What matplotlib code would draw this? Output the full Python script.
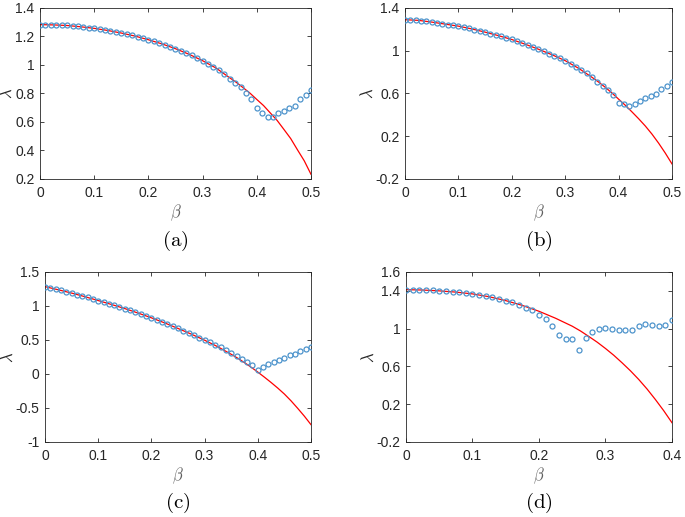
import numpy as np
import matplotlib.pyplot as plt

plt.rcParams['mathtext.fontset'] = 'cm'
plt.rcParams['font.family'] = ['Liberation Sans', 'DejaVu Sans']

# ---- data ----
beta_ad = np.round(np.arange(0, 0.501, 0.01), 2)      # scatter beta, panels a-c
beta_d = np.round(np.arange(0, 0.401, 0.01), 2)       # scatter beta, panel d

curve_beta_abc = [0, 0.025, 0.05, 0.075, 0.1, 0.125, 0.15, 0.175, 0.2, 0.225,
                  0.25, 0.275, 0.3, 0.325, 0.35, 0.3625, 0.375, 0.3875, 0.4,
                  0.4125, 0.425, 0.4375, 0.45, 0.4625, 0.475, 0.4875, 0.5]
curve_beta_d = [0, 0.025, 0.05, 0.075, 0.1, 0.125, 0.15, 0.175, 0.2, 0.225,
                0.25, 0.2625, 0.275, 0.2875, 0.3, 0.3125, 0.325, 0.3375, 0.35,
                0.3625, 0.375, 0.3875, 0.4]

# panel (a)
curve_a = [1.283, 1.281, 1.277, 1.268, 1.257, 1.242, 1.224, 1.203, 1.177, 1.148,
           1.114, 1.075, 1.030, 0.978, 0.910, 0.877, 0.840, 0.802, 0.758,
           0.715, 0.663, 0.611, 0.548, 0.484, 0.405, 0.328, 0.233]
lam_a = [1.283, 1.283, 1.282, 1.281, 1.279, 1.277, 1.274, 1.270, 1.266, 1.262,
         1.257, 1.252, 1.246, 1.239, 1.232, 1.224, 1.216, 1.207, 1.198, 1.188,
         1.177, 1.166, 1.154, 1.142, 1.128, 1.114, 1.099, 1.083, 1.067, 1.049,
         1.030, 1.010, 0.986, 0.962, 0.935, 0.905, 0.874, 0.845, 0.800, 0.760,
         0.700, 0.662, 0.638, 0.638, 0.666, 0.680, 0.697, 0.709, 0.760, 0.790, 0.826]

# panel (b)
curve_b = [1.290, 1.284, 1.268, 1.249, 1.230, 1.204, 1.174, 1.141, 1.105, 1.061,
           1.014, 0.963, 0.907, 0.836, 0.752, 0.707, 0.658, 0.605, 0.547,
           0.490, 0.428, 0.364, 0.296, 0.220, 0.135, 0.042, -0.059]
lam_b = [1.290, 1.289, 1.286, 1.281, 1.275, 1.268, 1.261, 1.253, 1.245, 1.238,
         1.230, 1.220, 1.210, 1.198, 1.186, 1.174, 1.161, 1.148, 1.134, 1.120,
         1.105, 1.088, 1.070, 1.052, 1.033, 1.014, 0.994, 0.973, 0.952, 0.930,
         0.907, 0.879, 0.850, 0.819, 0.787, 0.752, 0.712, 0.670, 0.635, 0.584,
         0.512, 0.497, 0.484, 0.497, 0.534, 0.553, 0.578, 0.597, 0.641, 0.672, 0.704]

# panel (c)
curve_c = [1.285, 1.238, 1.190, 1.137, 1.080, 1.022, 0.962, 0.896, 0.826, 0.751,
           0.670, 0.586, 0.497, 0.400, 0.290, 0.231, 0.167, 0.100, 0.028,
           -0.047, -0.125, -0.207, -0.295, -0.395, -0.505, -0.620, -0.745]
lam_c = [1.285, 1.266, 1.247, 1.228, 1.209, 1.190, 1.169, 1.148, 1.126, 1.103,
         1.080, 1.057, 1.034, 1.010, 0.986, 0.962, 0.936, 0.909, 0.882, 0.854,
         0.826, 0.796, 0.766, 0.735, 0.703, 0.670, 0.637, 0.603, 0.569, 0.534,
         0.500, 0.465, 0.430, 0.395, 0.355, 0.312, 0.270, 0.225, 0.180, 0.130,
         0.065, 0.110, 0.140, 0.175, 0.210, 0.240, 0.275, 0.300, 0.335, 0.370, 0.400]

# panel (d)
curve_d = [1.413, 1.409, 1.400, 1.387, 1.368, 1.338, 1.297, 1.246, 1.184, 1.110,
           1.026, 0.975, 0.917, 0.857, 0.790, 0.718, 0.638, 0.554, 0.462,
           0.361, 0.250, 0.132, 0.004]
lam_d = [1.413, 1.413, 1.410, 1.410, 1.406, 1.403, 1.400, 1.392, 1.389, 1.382,
         1.371, 1.360, 1.350, 1.332, 1.315, 1.297, 1.279, 1.251, 1.223, 1.198,
         1.149, 1.100, 1.026, 0.930, 0.892, 0.892, 0.769, 0.903, 0.966, 1.001,
         1.005, 0.998, 0.984, 0.991, 0.991, 1.033, 1.047, 1.043, 1.026, 1.043, 1.096]

panels = [
    # (position, beta, lam, curve beta, curve, ylim, yticks, xticks, label)
    ([0.0584, 0.6538, 0.3956, 0.3308], beta_ad, lam_a, curve_beta_abc, curve_a,
     (0.2, 1.4), [0.2, 0.4, 0.6, 0.8, 1, 1.2, 1.4], [0, 0.1, 0.2, 0.3, 0.4, 0.5], 'a'),
    ([0.5912, 0.6538, 0.3898, 0.3308], beta_ad, lam_b, curve_beta_abc, curve_b,
     (-0.2, 1.4), [-0.2, 0.2, 0.6, 1, 1.4], [0, 0.1, 0.2, 0.3, 0.4, 0.5], 'b'),
    ([0.0657, 0.1451, 0.3883, 0.3288], beta_ad, lam_c, curve_beta_abc, curve_c,
     (-1, 1.5), [-1, -0.5, 0, 0.5, 1, 1.5], [0, 0.1, 0.2, 0.3, 0.4, 0.5], 'c'),
    ([0.5927, 0.1451, 0.3883, 0.3288], beta_d, lam_d, curve_beta_d, curve_d,
     (-0.2, 1.6), [-0.2, 0.2, 0.6, 1, 1.4, 1.6], [0, 0.1, 0.2, 0.3, 0.4], 'd'),
]

fig = plt.figure(figsize=(6.85, 5.17), dpi=100)

for pos, b, lam, cb, cv, ylim, yt, xt, lab in panels:
    ax = fig.add_axes(pos)
    ax.plot(cb, cv, color='red', lw=0.9, zorder=2)
    ax.plot(b, lam, 'o', mfc='none', mec='#4d94cc', ms=3.6, mew=0.9, zorder=3)
    ax.set_xlim(xt[0], xt[-1])
    ax.set_ylim(*ylim)
    ax.set_xticks(xt)
    ax.set_xticklabels(['%g' % v for v in xt])
    ax.set_yticks(yt)
    ax.set_yticklabels(['%g' % v for v in yt])
    ax.tick_params(direction='in', length=3, width=0.6, top=True, right=True,
                   labelsize=10, colors='#262626', labelcolor='#262626')
    ax.tick_params(axis='x', pad=5)
    ax.tick_params(axis='y', pad=4)
    for sp in ax.spines.values():
        sp.set_color('#262626')
        sp.set_linewidth(0.6)
    ax.set_xlabel(r'$\beta$', fontsize=12, color='#606060', labelpad=2)
    ax.set_ylabel(r'$\lambda$', fontsize=12, color='#262626', labelpad=0)
    ax.text(0.5, -0.36, r'$\mathrm{(%s)}$' % lab, transform=ax.transAxes,
            ha='center', va='center', fontsize=15)

fig.savefig('out.png', dpi=100)
